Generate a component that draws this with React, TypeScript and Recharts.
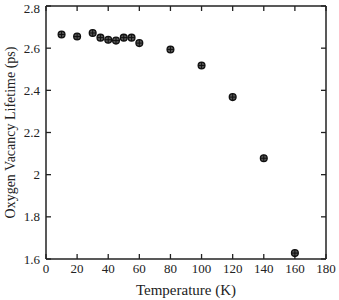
import { ScatterChart, Scatter, XAxis, YAxis } from 'recharts';

const temperature = [10, 20, 30, 35, 40, 45, 50, 55, 60, 80, 100, 120, 140, 160];
const lifetime = [2.665, 2.655, 2.672, 2.65, 2.64, 2.636, 2.65, 2.65, 2.624, 2.594, 2.518, 2.368, 2.078, 1.628];
const xTicks = [0, 20, 40, 60, 80, 100, 120, 140, 160, 180];
const yTicks = [1.6, 1.8, 2, 2.2, 2.4, 2.6, 2.8];

const points = temperature.map((t, i) => ({ t, life: lifetime[i] }));

const font = 'Liberation Serif, DejaVu Serif, serif';
const tickStyle = { fontSize: 13, fill: '#222', fontFamily: font };

// circle with a cross inside
const Marker = (props: any) => {
  const { cx, cy } = props;
  const r = 3.4;
  return (
    <g>
      <circle cx={cx} cy={cy} r={r} fill="#555" stroke="#111" strokeWidth={1.3} />
      <line x1={cx - r} y1={cy} x2={cx + r} y2={cy} stroke="#111" strokeWidth={1} />
      <line x1={cx} y1={cy - r} x2={cx} y2={cy + r} stroke="#111" strokeWidth={1} />
    </g>
  );
};

export default function App() {
  return (
    <div>
      <style>{'body{margin:0}'}</style>
      <ScatterChart width={339} height={300} margin={{ top: 5, right: 12, bottom: 0, left: 0 }}>
        <XAxis
          type="number"
          dataKey="t"
          domain={[0, 180]}
          ticks={xTicks}
          height={41}
          tickSize={-5}
          tickMargin={10}
          tick={tickStyle}
          axisLine={{ stroke: '#222', strokeWidth: 1.5 }}
          tickLine={{ stroke: '#222', strokeWidth: 1.3 }}
          label={{ value: 'Temperature (K)', position: 'insideBottom', offset: 5, style: { fontSize: 15, fill: '#222', fontFamily: font } }}
        />
        <XAxis
          xAxisId="top"
          orientation="top"
          type="number"
          dataKey="t"
          domain={[0, 180]}
          ticks={xTicks}
          height={1}
          tickSize={-5}
          tickFormatter={() => ''}
          axisLine={{ stroke: '#222', strokeWidth: 1.5 }}
          tickLine={{ stroke: '#222', strokeWidth: 1.3 }}
        />
        <YAxis
          type="number"
          dataKey="life"
          domain={[1.6, 2.8]}
          ticks={yTicks}
          width={46}
          tickSize={-5}
          tickMargin={11}
          tick={tickStyle}
          axisLine={{ stroke: '#222', strokeWidth: 1.5 }}
          tickLine={{ stroke: '#222', strokeWidth: 1.3 }}
          label={{ value: 'Oxygen Vacancy Lifetime (ps)', angle: -90, position: 'insideLeft', offset: 10, style: { textAnchor: 'middle', fontSize: 14, fill: '#222', fontFamily: font } }}
        />
        <YAxis
          yAxisId="right"
          orientation="right"
          type="number"
          dataKey="life"
          domain={[1.6, 2.8]}
          ticks={yTicks}
          width={1}
          tickSize={-5}
          tickFormatter={() => ''}
          axisLine={{ stroke: '#222', strokeWidth: 1.5 }}
          tickLine={{ stroke: '#222', strokeWidth: 1.3 }}
        />
        <Scatter data={points} dataKey="life" shape={Marker} isAnimationActive={false} />
        <Scatter data={points} dataKey="life" xAxisId="top" yAxisId="right" shape={() => <g />} isAnimationActive={false} />
      </ScatterChart>
    </div>
  );
}
